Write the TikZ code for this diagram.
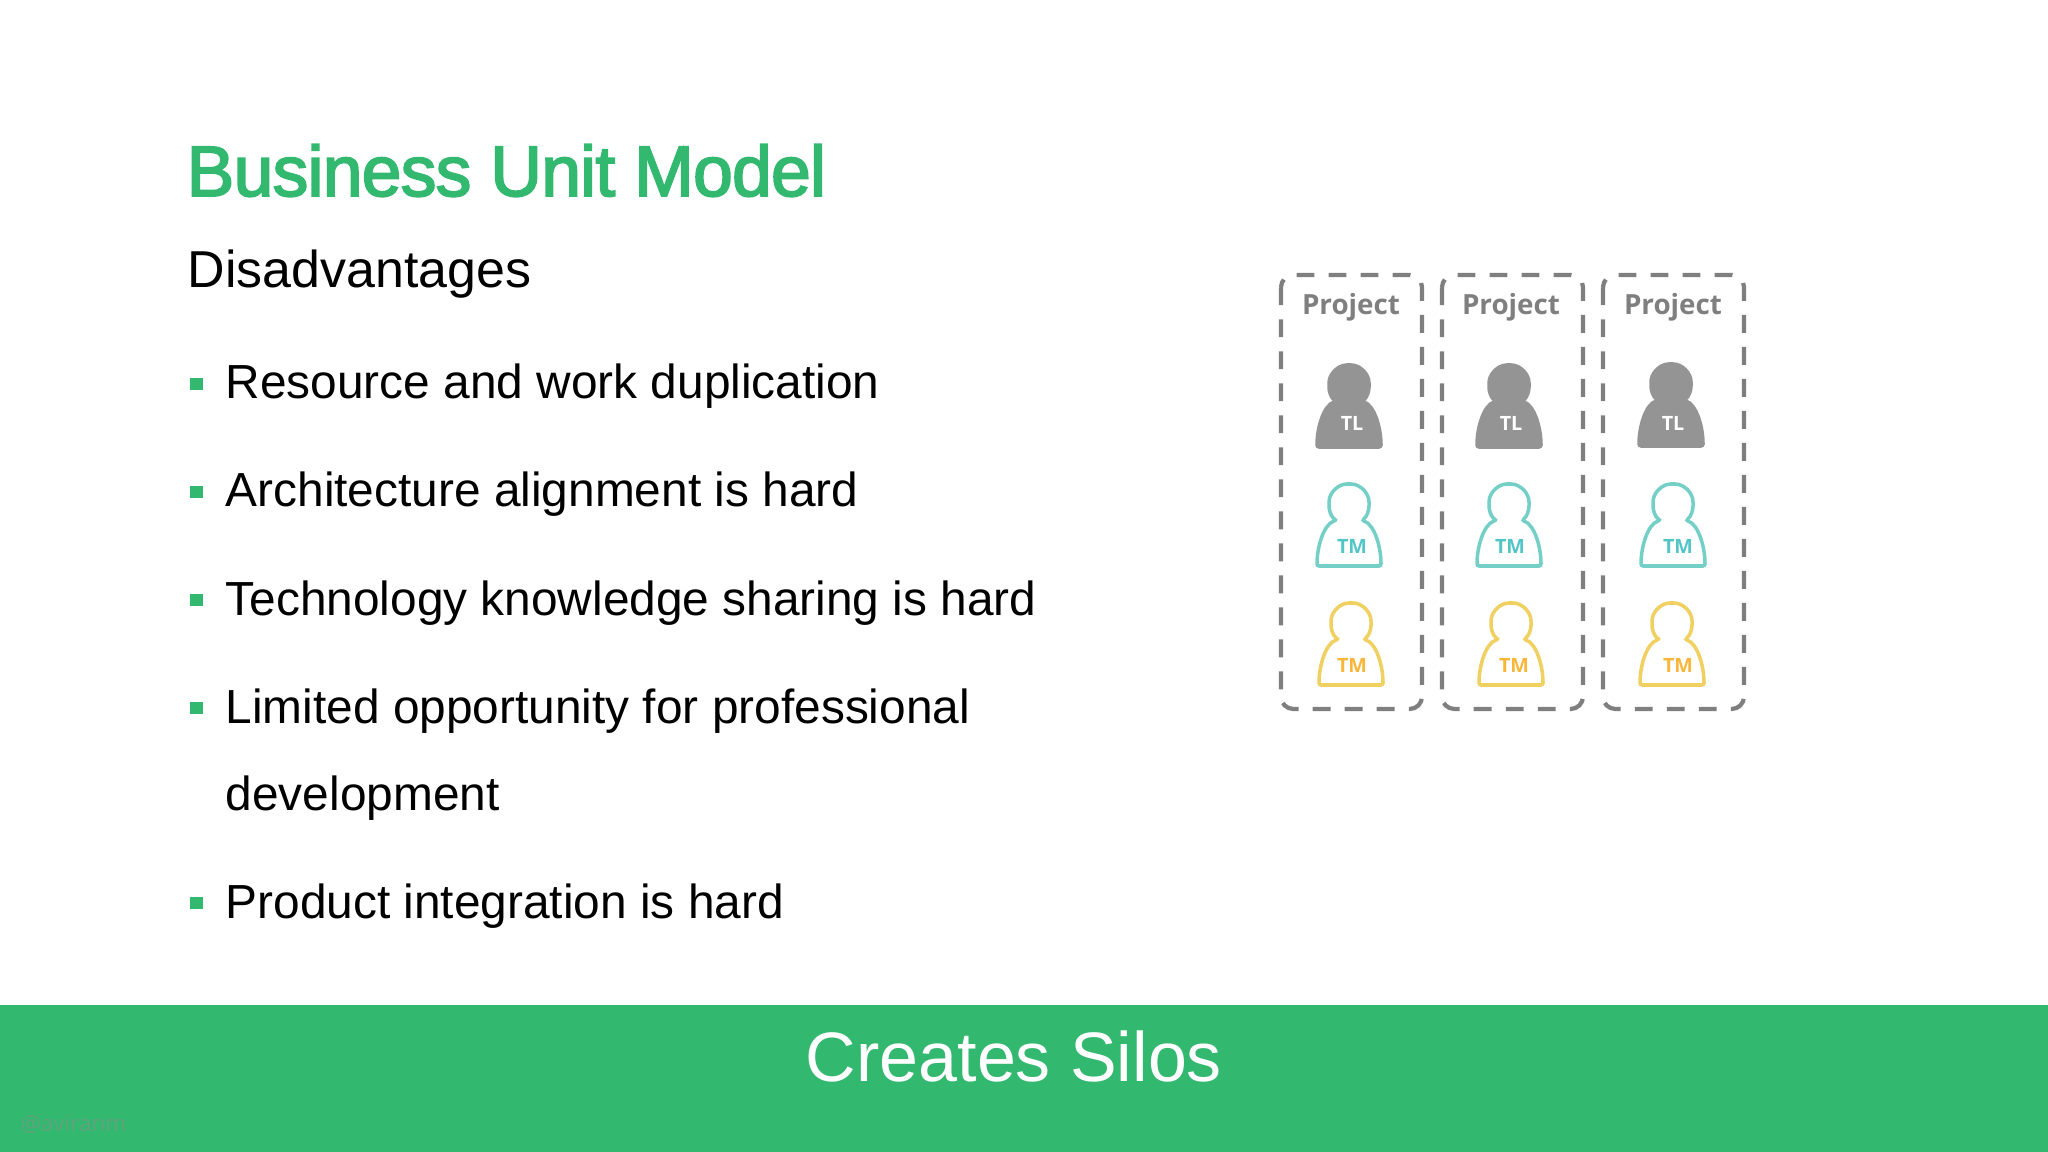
\documentclass[tikz,border=0pt]{standalone}
\usepackage{fontspec}
\setmainfont{Liberation Sans}
\newfontfamily\labelfont{Open Sans}
\newfontfamily\titlefont[FakeBold=2.6,LetterSpace=-1.0]{Liberation Sans}
\definecolor{bandgreen}{HTML}{33B870}
\definecolor{markgreen}{HTML}{5FA47C}
\definecolor{boxgray}{HTML}{7F7F7F}
\definecolor{leadgray}{HTML}{949494}
\definecolor{tealline}{HTML}{74D0C6}
\definecolor{tealtext}{HTML}{52C6C6}
\definecolor{yellowline}{HTML}{F0D060}
\definecolor{yellowtext}{HTML}{F8B73A}
\tikzset{
  titletext/.style={anchor=base west,inner sep=0pt,text=bandgreen,font=\titlefont\fontsize{20.3}{24}\selectfont},
  subtext/.style={anchor=base west,inner sep=0pt,font=\fontsize{14.76}{17}\selectfont},
  itemtext/.style={anchor=base west,inner sep=0pt,font=\fontsize{13.6}{16}\selectfont},
  bandtext/.style={anchor=base,inner sep=0pt,text=white,font=\fontsize{19.9}{24}\selectfont},
  marktext/.style={anchor=base west,inner sep=0pt,text=markgreen,font=\labelfont\fontsize{6.4}{8}\selectfont},
  projectbox/.style={draw=boxgray,line width=1.2pt,rounded corners=3.5pt,dash pattern=on 5.1pt off 4pt},
  projecttext/.style={inner sep=0pt,text=boxgray,font=\labelfont\bfseries\fontsize{7.9}{10}\selectfont},
  roletext/.style={inner sep=0pt,font=\labelfont\bfseries\fontsize{5.6}{7}\selectfont},
  lead/.style={draw=leadgray,fill=leadgray,line width=1pt},
  tealmember/.style={draw=tealline,fill=white,line width=1pt},
  yellowmember/.style={draw=yellowline,fill=white,line width=1pt},
  pics/person/.style={code={
    \draw[pic actions,rounded corners=.6pt] (-13,16.5) .. controls (-18,12.5) and (-20,6.5) .. (-20,0)
      .. controls (-20,-11) and (-11,-20) .. (0,-20)
      .. controls (11,-20) and (20,-11) .. (20,0)
      .. controls (20,6.5) and (18,12.5) .. (13,16.5)
      .. controls (25,20) and (32,42) .. (32,62) -- (-32,62)
      .. controls (-32,42) and (-25,20) .. (-13,16.5) -- cycle;
  }}
}
\begin{document}
\begin{tikzpicture}[x=0.01cm,y=-0.01cm]
  \useasboundingbox (0,0) rectangle (2048,1152);
  \fill[bandgreen] (0,1005) rectangle (2048,1152);
  \node[marktext] (mark) at (20,1131) {@aviranm};
  \node[bandtext] (silos) at (1014,1081) {Creates Silos};
  \node[titletext] (title) at (186,196) {Business Unit Model};
  \node[subtext] (sub) at (187,288) {Disadvantages};
  % bullet list
  \foreach \name/\y/\words in {res/399/Resource and work duplication,
      arch/507/Architecture alignment is hard,
      tech/615/Technology knowledge sharing is hard,
      lim/723/Limited opportunity for professional,
      prod/918/Product integration is hard}{
    \fill[bandgreen] (190,\y-21) rectangle (203,\y-9);
    \node[itemtext] (\name) at (225,\y) {\words};
  }
  \node[itemtext] (dev) at (225,810) {development};
  % project boxes
  \draw[projectbox] (1281,275) rectangle (1422,709);
  \draw[projectbox] (1442,275) rectangle (1583,709);
  \draw[projectbox] (1603,275) rectangle (1744,709);
  \node[projecttext] (pa) at (1351,307) {Project};
  \node[projecttext] (pb) at (1511,307) {Project};
  \node[projecttext] (pc) at (1673,307) {Project};
  % people
  \foreach \id/\x/\y/\tx/\ty/\look/\ink/\role in {
      a/1349/385/1352/423/lead/white/TL,
      b/1509/385/1511/423/lead/white/TL,
      c/1671/384/1673/423/lead/white/TL,
      d/1349/504/1352/546/tealmember/tealtext/TM,
      e/1509/504/1510/546/tealmember/tealtext/TM,
      f/1673/504/1678/546/tealmember/tealtext/TM,
      g/1351/623/1352/665/yellowmember/yellowtext/TM,
      h/1511/623/1514/665/yellowmember/yellowtext/TM,
      i/1672/623/1678/665/yellowmember/yellowtext/TM}{
    \pic[\look] at (\x,\y) {person};
    \node[roletext,text=\ink] (role\id) at (\tx,\ty) {\role};
  }
\end{tikzpicture}
\end{document}
